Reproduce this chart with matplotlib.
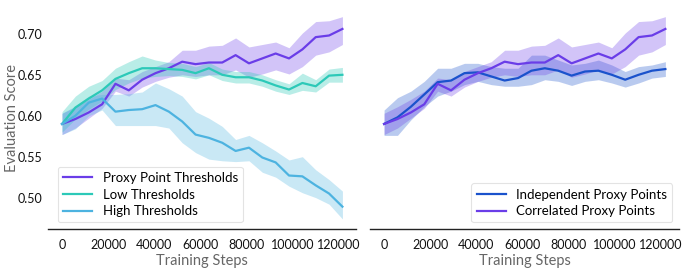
import matplotlib
matplotlib.use("Agg")
import matplotlib.pyplot as plt

plt.rcParams['font.family'] = ['Lato', 'DejaVu Sans']

steps = [0, 5800, 11600, 17400, 23200, 29000, 34800, 40600, 46400, 52200, 58000,
         63800, 69600, 75400, 81200, 87000, 92800, 98600, 104400, 110200, 116000, 121800]

proxy_mean = [0.590, 0.596, 0.604, 0.614, 0.639, 0.631, 0.644, 0.652, 0.658, 0.666, 0.663,
              0.665, 0.665, 0.674, 0.664, 0.670, 0.676, 0.670, 0.681, 0.696, 0.698, 0.706]
proxy_lo = [0.577, 0.585, 0.597, 0.609, 0.630, 0.624, 0.635, 0.642, 0.647, 0.650, 0.648,
            0.650, 0.650, 0.656, 0.647, 0.651, 0.656, 0.651, 0.660, 0.674, 0.678, 0.687]
proxy_hi = [0.603, 0.611, 0.620, 0.630, 0.646, 0.644, 0.654, 0.660, 0.666, 0.680, 0.680,
            0.685, 0.686, 0.695, 0.684, 0.687, 0.690, 0.683, 0.701, 0.715, 0.716, 0.721]

low_mean = [0.590, 0.610, 0.621, 0.631, 0.645, 0.652, 0.658, 0.658, 0.657, 0.656, 0.652,
            0.658, 0.650, 0.647, 0.647, 0.643, 0.637, 0.632, 0.640, 0.636, 0.649, 0.650]
low_lo = [0.580, 0.596, 0.608, 0.618, 0.632, 0.640, 0.646, 0.648, 0.649, 0.648, 0.645,
          0.650, 0.643, 0.640, 0.640, 0.636, 0.630, 0.626, 0.631, 0.629, 0.641, 0.641]
low_hi = [0.605, 0.624, 0.636, 0.643, 0.658, 0.666, 0.673, 0.668, 0.665, 0.664, 0.660,
          0.665, 0.657, 0.654, 0.654, 0.650, 0.644, 0.639, 0.652, 0.644, 0.657, 0.659]

high_mean = [0.590, 0.600, 0.616, 0.621, 0.605, 0.607, 0.608, 0.613, 0.605, 0.593, 0.577,
             0.573, 0.567, 0.557, 0.561, 0.549, 0.543, 0.527, 0.526, 0.515, 0.505, 0.489]
high_lo = [0.577, 0.584, 0.600, 0.607, 0.588, 0.588, 0.588, 0.588, 0.585, 0.567, 0.555,
           0.547, 0.545, 0.544, 0.545, 0.531, 0.525, 0.514, 0.506, 0.500, 0.492, 0.474]
high_hi = [0.603, 0.612, 0.624, 0.626, 0.626, 0.627, 0.629, 0.640, 0.633, 0.624, 0.605,
           0.597, 0.587, 0.571, 0.576, 0.567, 0.557, 0.546, 0.550, 0.534, 0.522, 0.508]

indep_mean = [0.590, 0.598, 0.611, 0.626, 0.641, 0.643, 0.652, 0.653, 0.648, 0.643, 0.646,
              0.655, 0.658, 0.655, 0.649, 0.654, 0.655, 0.650, 0.644, 0.650, 0.655, 0.657]
indep_lo = [0.576, 0.576, 0.595, 0.611, 0.624, 0.630, 0.638, 0.642, 0.638, 0.636, 0.636,
            0.638, 0.644, 0.642, 0.637, 0.642, 0.644, 0.640, 0.635, 0.640, 0.646, 0.648]
indep_hi = [0.607, 0.622, 0.630, 0.642, 0.658, 0.658, 0.664, 0.664, 0.660, 0.658, 0.658,
            0.674, 0.674, 0.668, 0.662, 0.664, 0.668, 0.662, 0.654, 0.660, 0.662, 0.666]

xticks = [0, 20000, 40000, 60000, 80000, 100000, 120000]
yticks = [0.50, 0.55, 0.60, 0.65, 0.70]

C_PURPLE = '#6a3de8'
C_TEAL = '#2cc9b8'
C_LBLUE = '#4db3e0'
C_DBLUE = '#1a52cc'

fig = plt.figure(figsize=(6.85, 2.71), dpi=100)
ax1 = fig.add_axes([48/685, 1 - 229/271, 308/685, 222.5/271])
ax2 = fig.add_axes([370/685, 1 - 229/271, 309/685, 222.5/271])

def band(ax, m, lo, hi, c, label, fa=0.3):
    ax.fill_between(steps, lo, hi, color=c, alpha=fa, linewidth=0)
    ax.plot(steps, m, color=c, linewidth=1.6, label=label)

band(ax1, proxy_mean, proxy_lo, proxy_hi, C_PURPLE, 'Proxy Point Thresholds', 0.3)
band(ax1, low_mean, low_lo, low_hi, C_TEAL, 'Low Thresholds', 0.33)
band(ax1, high_mean, high_lo, high_hi, C_LBLUE, 'High Thresholds', 0.3)

band(ax2, indep_mean, indep_lo, indep_hi, C_DBLUE, 'Independent Proxy Points', 0.3)
band(ax2, proxy_mean, proxy_lo, proxy_hi, C_PURPLE, 'Correlated Proxy Points', 0.3)

for ax in (ax1, ax2):
    ax.set_xlim(-6100, 127700)
    ax.set_ylim(0.4617, 0.7334)
    ax.set_xticks(xticks)
    ax.set_xticklabels([str(v) for v in xticks])
    for s in ('top', 'right', 'left'):
        ax.spines[s].set_visible(False)
    ax.spines['bottom'].set_color('#222222')
    ax.spines['bottom'].set_linewidth(1.0)
    ax.tick_params(axis='both', length=0, labelsize=9, colors='#111111')
    ax.tick_params(axis='x', pad=7)
    ax.tick_params(axis='y', pad=4)
    ax.set_xlabel('Training Steps', fontsize=10.5, color='#666666', labelpad=2)

ax1.set_yticks(yticks)
ax1.set_yticklabels(['%.2f' % v for v in yticks])
ax1.set_ylabel('Evaluation Score', fontsize=10.5, color='#666666')
ax1.yaxis.set_label_coords(-0.093, 0.5)
ax2.set_yticks([])

leg1 = ax1.legend(loc='lower left', fontsize=9.5, frameon=True, handlelength=2.2,
                  borderaxespad=0.5, labelspacing=0.35, bbox_to_anchor=(0.01, 0.0))
leg1.get_frame().set_edgecolor('#dddddd')
leg1.get_frame().set_linewidth(0.8)
leg2 = ax2.legend(loc='lower right', fontsize=9.5, frameon=True, handlelength=2.2,
                  borderaxespad=0.5, labelspacing=0.35)
leg2.get_frame().set_edgecolor('#dddddd')
leg2.get_frame().set_linewidth(0.8)

fig.savefig('out.png', dpi=100)
